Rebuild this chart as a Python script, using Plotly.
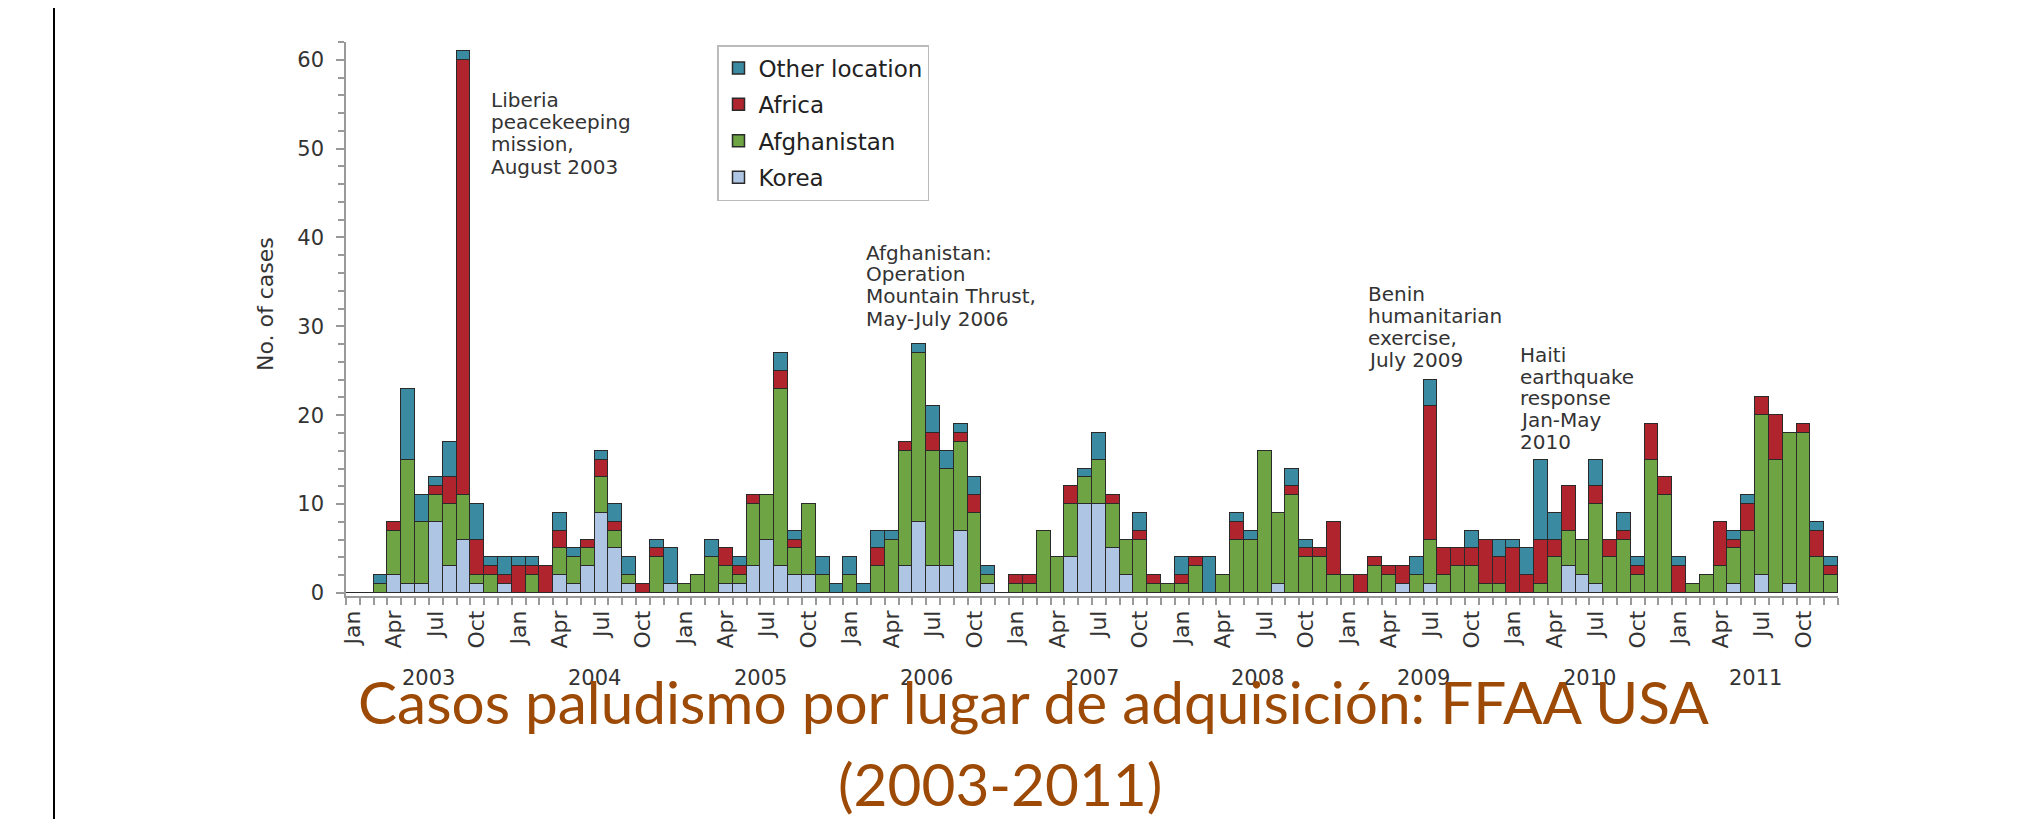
import plotly.graph_objects as go

# ---------------- data ----------------
years = [2003, 2004, 2005, 2006, 2007, 2008, 2009, 2010, 2011]
month_labels = ["Jan", "Apr", "Jul", "Oct"]

korea = [0, 0, 0, 2, 1, 1, 8, 3, 6, 1, 0, 1,
         0, 0, 0, 2, 1, 3, 9, 5, 1, 0, 0, 1,
         0, 0, 0, 1, 1, 3, 6, 3, 2, 2, 0, 0,
         0, 0, 0, 0, 3, 8, 3, 3, 7, 0, 1, 0,
         0, 0, 0, 0, 4, 10, 10, 5, 2, 0, 0, 0,
         0, 0, 0, 0, 0, 0, 0, 1, 0, 0, 0, 0,
         0, 0, 0, 0, 1, 0, 1, 0, 0, 0, 0, 0,
         0, 0, 0, 0, 3, 2, 1, 0, 0, 0, 0, 0,
         0, 0, 0, 0, 1, 0, 2, 0, 1, 0, 0, 0]
afghanistan = [0, 0, 1, 5, 14, 7, 3, 7, 5, 1, 2, 0,
               0, 2, 0, 3, 3, 2, 4, 2, 1, 0, 4, 0,
               1, 2, 4, 2, 1, 7, 5, 20, 3, 8, 2, 0,
               2, 0, 3, 6, 13, 19, 13, 11, 10, 9, 1, 0,
               1, 1, 7, 4, 6, 3, 5, 5, 4, 6, 1, 1,
               1, 3, 0, 2, 6, 6, 16, 8, 11, 4, 4, 2,
               2, 0, 3, 2, 0, 2, 5, 2, 3, 3, 1, 1,
               0, 0, 1, 4, 4, 4, 9, 4, 6, 2, 15, 11,
               0, 1, 2, 3, 4, 7, 18, 15, 17, 18, 4, 2]
africa = [0, 0, 0, 1, 0, 0, 1, 3, 49, 4, 1, 1,
          3, 1, 3, 2, 0, 1, 2, 1, 0, 1, 1, 0,
          0, 0, 0, 2, 1, 1, 0, 2, 1, 0, 0, 0,
          0, 0, 2, 0, 1, 0, 2, 0, 1, 2, 0, 0,
          1, 1, 0, 0, 2, 0, 0, 1, 0, 1, 1, 0,
          1, 1, 0, 0, 2, 0, 0, 0, 1, 1, 1, 6,
          0, 2, 1, 1, 2, 0, 15, 3, 2, 2, 5, 3,
          5, 2, 5, 2, 5, 0, 2, 2, 1, 1, 4, 2,
          3, 0, 0, 5, 1, 3, 2, 5, 0, 1, 3, 1]
other = [0, 0, 1, 0, 8, 3, 1, 4, 1, 4, 1, 2,
         1, 1, 0, 2, 1, 0, 1, 2, 2, 0, 1, 4,
         0, 0, 2, 0, 1, 0, 0, 2, 1, 0, 2, 1,
         2, 1, 2, 1, 0, 1, 3, 2, 1, 2, 1, 0,
         0, 0, 0, 0, 0, 1, 3, 0, 0, 2, 0, 0,
         2, 0, 4, 0, 1, 1, 0, 0, 2, 1, 0, 0,
         0, 0, 0, 0, 0, 2, 3, 0, 0, 2, 0, 2,
         1, 3, 9, 3, 0, 0, 3, 0, 2, 1, 0, 0,
         1, 0, 0, 0, 1, 1, 0, 0, 0, 0, 1, 1]

series = [
    ("Korea", korea, "#aec6e3", 4),
    ("Afghanistan", afghanistan, "#6ea443", 3),
    ("Africa", africa, "#b0242e", 2),
    ("Other location", other, "#3a8aa1", 1),
]

events = [
    (["Liberia", "peacekeeping", "mission,", "August 2003"], 489, [100, 122, 144, 167]),
    (["Afghanistan:", "Operation", "Mountain Thrust,", "May-July 2006"], 864, [253, 274, 296, 319]),
    (["Benin", "humanitarian", "exercise,", "July 2009"], 1366, [294, 316, 338, 360]),
    (["Haiti", "earthquake", "response", "Jan-May", "2010"], 1518, [355, 377, 398, 420, 442]),
]

# ---------------- geometry (target-pixel coords; page body adds an 8px margin) ----------------
OFF = 8
W, H = 2018 - OFF, 819 - OFF
L, R, T, B = 346, 1838, 42, 596   # plot area in target pixels


def px(X):
    return (X - L) / (R - L)


def py(Y):
    return (B - Y) / (B - T)


n = len(korea)
xs = list(range(n))

fig = go.Figure()
for name, vals, color, rank in series:
    fig.add_trace(go.Bar(
        x=xs, y=vals, name=name, legendgroup=name, legendrank=rank,
        marker=dict(color=color, line=dict(color="#2a2a2a", width=1.5)),
    ))

tickvals = list(range(0, n, 3))
ticktext = [month_labels[(i // 3) % 4] for i in tickvals]

fig.update_layout(
    width=W, height=H,
    margin=dict(l=L - OFF, r=(W + OFF) - R, t=T - OFF, b=(H + OFF) - B, pad=0),
    paper_bgcolor="white", plot_bgcolor="white",
    barmode="stack", bargap=0,
    font=dict(family="DejaVu Sans", size=20, color="#333333"),
    legend=dict(
        x=px(717), y=py(45), xanchor="left", yanchor="top",
        bordercolor="#bbbbbb", borderwidth=1.5, bgcolor="white",
        font=dict(family="DejaVu Sans", size=23, color="#222222"),
        traceorder="grouped", tracegroupgap=3.5,
        entrywidth=203, entrywidthmode="pixels",
    ),
    xaxis=dict(
        range=[-0.5, n - 0.5], showgrid=False, zeroline=False,
        showline=True, linecolor="#999999", linewidth=1.5,
        tickmode="array", tickvals=tickvals, ticktext=ticktext,
        tickangle=-90, ticks="", ticklabelstandoff=4,
        tickfont=dict(family="DejaVu Sans", size=22, color="#333333"),
        minor=dict(tickmode="array", tickvals=[i - 0.5 for i in range(n + 1)],
                   ticks="outside", ticklen=7, tickcolor="#999999", tickwidth=1.5),
    ),
    yaxis=dict(
        range=[-0.35, 62], showgrid=False, zeroline=False,
        showline=True, linecolor="#999999", linewidth=1.5,
        tickvals=[0, 10, 20, 30, 40, 50, 60], ticks="outside", ticklen=8,
        tickcolor="#999999", tickwidth=1.5, ticklabelstandoff=8,
        tickfont=dict(family="DejaVu Sans", size=21, color="#333333"),
        minor=dict(dtick=2, tick0=0, ticks="outside", ticklen=6,
                   tickcolor="#999999", tickwidth=1.5),
    ),
)

ann = []
# y-axis title
ann.append(dict(text="No. of cases", x=px(266), y=py(304), xref="paper", yref="paper",
                textangle=-90, showarrow=False, xanchor="center", yanchor="middle",
                font=dict(family="DejaVu Sans", size=22, color="#333333")))
# year labels
for k, yr in enumerate(years):
    ann.append(dict(text=str(yr), x=12 * k + 5.5, y=py(678), xref="x", yref="paper",
                    showarrow=False, xanchor="center", yanchor="middle",
                    font=dict(family="DejaVu Sans", size=21, color="#333333")))
# event annotations
for lines, X, Ys in events:
    for line, Y in zip(lines, Ys):
        ann.append(dict(text=line, x=px(X), y=py(Y), xref="paper", yref="paper",
                        showarrow=False, xanchor="left", yanchor="middle",
                        font=dict(family="DejaVu Sans", size=20, color="#333333")))
# slide title
ann.append(dict(text="Casos paludismo por lugar de adquisición: FFAA USA",
                x=px(1033), y=py(701), xref="paper", yref="paper",
                showarrow=False, xanchor="center", yanchor="middle",
                font=dict(family="Lato", size=58.5, color="#9c4a06")))
ann.append(dict(text="(2003-2011)",
                x=px(1000), y=py(783), xref="paper", yref="paper",
                showarrow=False, xanchor="center", yanchor="middle",
                font=dict(family="Lato", size=58.5, color="#9c4a06")))
fig.update_layout(annotations=ann)

# slide left border
fig.add_shape(type="line", xref="paper", yref="paper",
              x0=px(54), x1=px(54), y0=py(0), y1=py(819),
              line=dict(color="black", width=2))

fig.write_html("out.html")
